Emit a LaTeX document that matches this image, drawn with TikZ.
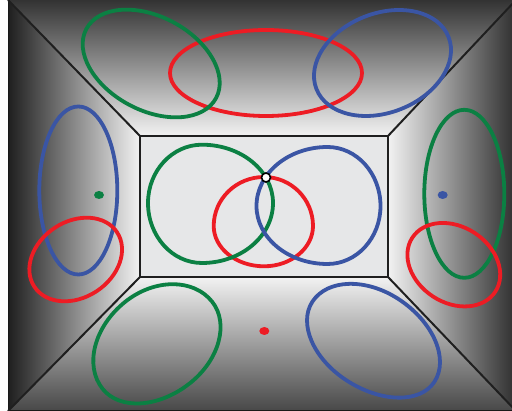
\documentclass[tikz,border=0pt]{standalone}
\newcommand\eggloop[8]{% colour, cx, cy, angle, right, left, top, bottom radii
  \draw[loop,#1,shift={(#2,#3)},rotate=#4]
    (0,-#7) .. controls (0.552*#5,-#7) and (#5,-0.552*#7) .. (#5,0)
    .. controls (#5,0.552*#8) and (0.552*#5,#8) .. (0,#8)
    .. controls (-0.552*#6,#8) and (-#6,0.552*#8) .. (-#6,0)
    .. controls (-#6,-0.552*#7) and (-0.552*#6,-#7) .. cycle;}
\begin{document}
\begin{tikzpicture}[x=1pt,y=-1pt,
  loop/.style={line width=3.8pt},
  edgeline/.style={line width=2pt, draw=black!88}]
\definecolor{cg}{HTML}{0B8043}
\definecolor{cr}{HTML}{ED1C24}
\definecolor{cb}{HTML}{3A55A4}
\definecolor{innerfill}{HTML}{E6E7E8}
\useasboundingbox (0,0) rectangle (512,411);
\clip (0,0) rectangle (512,411);
\fill[white] (0,0) rectangle (512,411);
% coordinates
\coordinate (OTL) at (8,0);
\coordinate (OTR) at (516,0);
\coordinate (OBR) at (516,411);
\coordinate (OBL) at (8,411);
\coordinate (ITL) at (140,136);
\coordinate (ITR) at (388,136);
\coordinate (IBR) at (388,277);
\coordinate (IBL) at (140,277);
% shaded walls
\shade[top color=black!80, bottom color=black!5] (OTL) -- (OTR) -- (ITR) -- (ITL) -- cycle;
\shade[left color=black!88, right color=black!5] (OTL) -- (ITL) -- (IBL) -- (OBL) -- cycle;
\shade[left color=black!5, right color=black!82] (OTR) -- (ITR) -- (IBR) -- (OBR) -- cycle;
\shade[top color=black!5, bottom color=black!72] (IBL) -- (IBR) -- (OBR) -- (OBL) -- cycle;
\draw[line width=1pt, draw=black!90] (OTL) rectangle (OBR);
% inner wall
\filldraw[fill=innerfill, edgeline] (ITL) rectangle (IBR);
\draw[edgeline] (OTL) -- (ITL);
\draw[edgeline] (OTR) -- (ITR);
\draw[edgeline] (OBL) -- (IBL);
\draw[edgeline] (OBR) -- (IBR);
% top wall loops
\draw[loop, cr] (266,73) ellipse (96 and 43);
\draw[loop, cg, rotate around={-28:(151.2,63.5)}] (151.2,63.5) ellipse (73.5 and 46.8);
\draw[loop, cb, rotate around={21.5:(382.5,63)}] (382.5,63) ellipse (71 and 49.6);
% left wall loops
\draw[loop, cb] (78.3,190.5) ellipse (39 and 84);
\draw[loop, cr, rotate around={33.3:(75.7,259.5)}] (75.7,259.5) ellipse (49.5 and 38);
\fill[cg] (99,195) ellipse (5 and 4);
% right wall loops
\draw[loop, cg] (464.3,193.8) ellipse (40 and 84);
\draw[loop, cr, rotate around={-33:(453.8,264.7)}] (453.8,264.7) ellipse (49.5 and 38);
\fill[cb] (442.7,195) ellipse (5 and 4);
% bottom wall loops
\eggloop{cg}{158.9}{344}{38.5}{68}{72}{54}{50}
\eggloop{cb}{371.7}{340.7}{-33.4}{75}{71}{49.5}{47}
\fill[cr] (264.3,331) ellipse (5 and 4);
% inner wall loops
\eggloop{cr}{264}{226}{0}{49}{50.3}{49}{40.3}
\eggloop{cg}{202}{203}{0}{71}{54}{58.3}{60}
\eggloop{cb}{327.5}{206}{0}{53}{71}{59}{58}
\node[circle, draw=black, fill=white, line width=1.6pt, inner sep=0pt, minimum size=9pt] (junction) at (266,177.5) {};
\end{tikzpicture}
\end{document}
